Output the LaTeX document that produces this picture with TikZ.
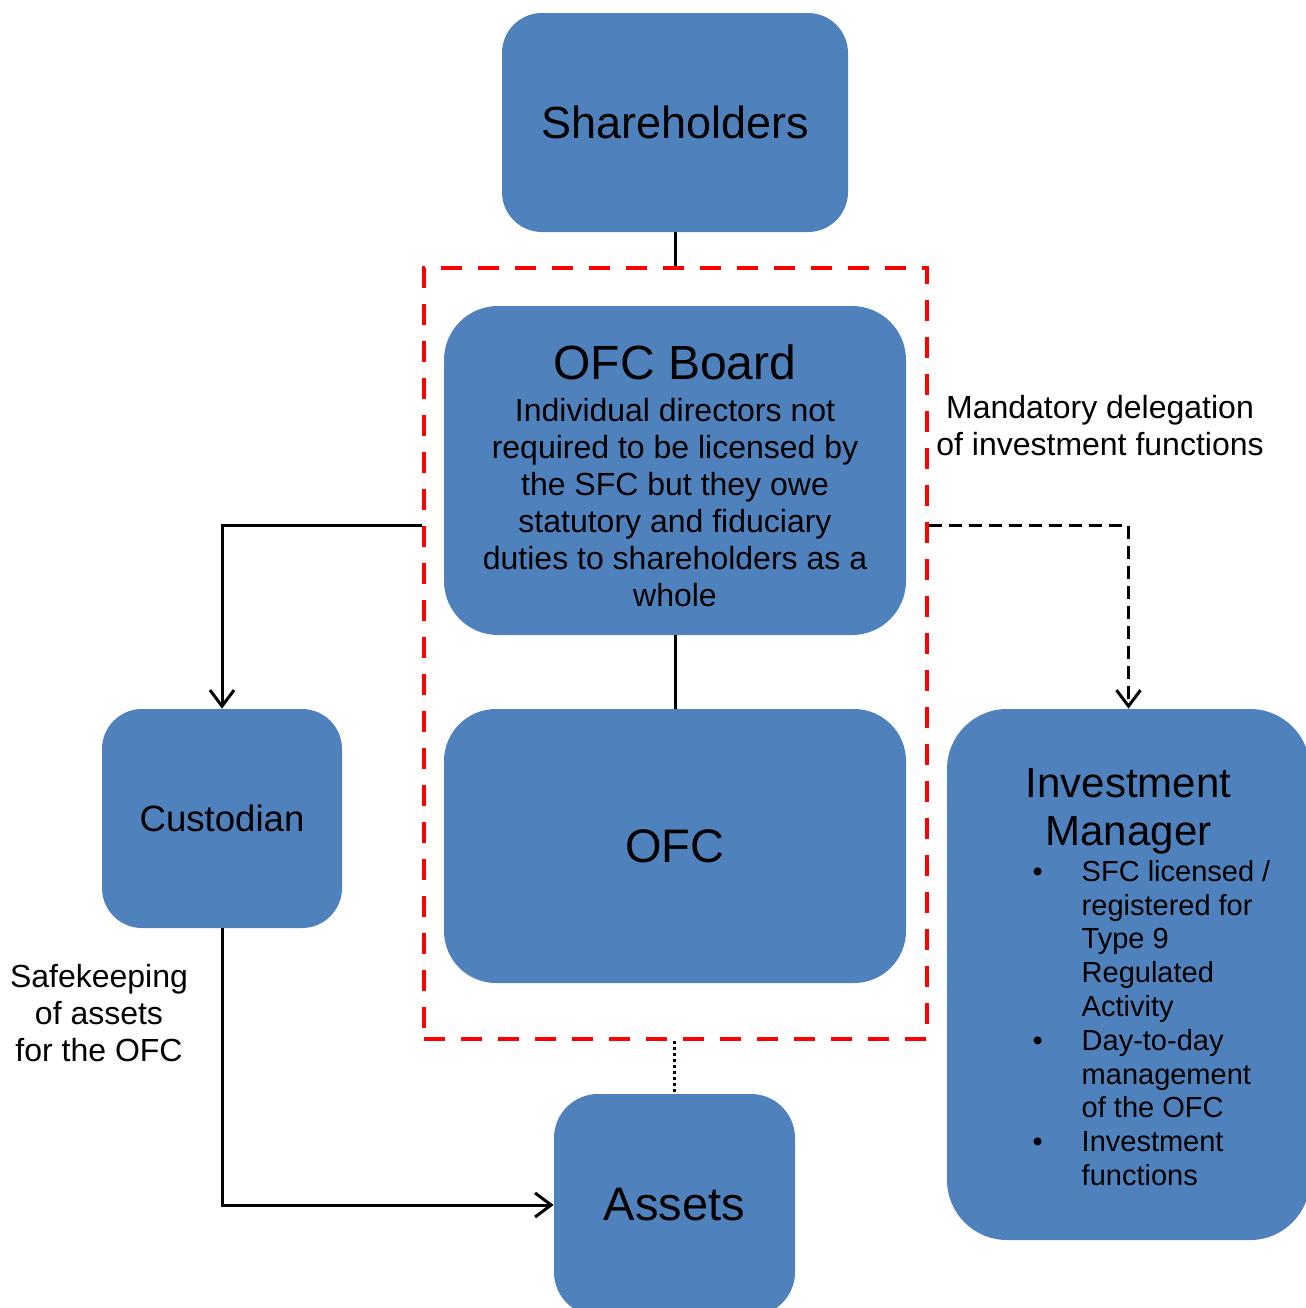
\documentclass[tikz,border=0pt]{standalone}
\usepackage{fontspec}
\setmainfont{Liberation Sans}
\usetikzlibrary{arrows.meta}
\definecolor{boxblue}{HTML}{4F81BD}
\definecolor{grpred}{HTML}{FF0000}
\begin{document}
\begin{tikzpicture}[x=0.5pt,y=-0.5pt,
  blk/.style={fill=boxblue, draw=none, text=black, inner sep=0pt, align=center},
  conn/.style={line width=1.5pt, draw=black},
  arr/.style={conn, -{Straight Barb[length=8pt,width=12pt]}},
  dashblk/.style={dash pattern=on 6.5pt off 3.5pt},
  dotblk/.style={conn, dash pattern=on 1.5pt off 1.5pt},
  grpbox/.style={draw=grpred, line width=2.2pt, dash pattern=on 10.5pt off 8pt, inner sep=0pt, fill=none},
  lbl/.style={align=center, inner sep=0pt, text=black, font=\fontsize{16}{18.5}\selectfont},
  bodyfont/.style={font=\fontsize{16}{18.5}\selectfont}
]
\useasboundingbox (0,0) rectangle (1306,1308);
\clip (0,0) rectangle (1306,1308);

% boxes
\node[blk, minimum width=173pt, minimum height=109.5pt, rounded corners=20pt,
      font=\fontsize{22.5}{27}\selectfont] (sh) at (675,122.5) {Shareholders};

\node[grpbox, minimum width=251.5pt, minimum height=385.5pt] (grp) at (675.5,653.5) {};

\node[blk, bodyfont, minimum width=231pt, minimum height=164.5pt, rounded corners=27pt] (board) at (675,470.5)
  {{\fontsize{24}{28}\selectfont\rule{0pt}{23pt}OFC Board}\\[2.5pt]
   Individual directors not\\
   required to be licensed by\\
   the SFC but they owe\\
   statutory and fiduciary\\
   duties to shareholders as a\\
   whole};

\node[blk, minimum width=231pt, minimum height=137pt, rounded corners=26pt,
      font=\fontsize{23.5}{28}\selectfont] (ofc) at (675,846) {OFC};

\node[blk, minimum width=120pt, minimum height=109.5pt, rounded corners=20pt,
      font=\fontsize{18.3}{22}\selectfont] (cust) at (222,818.5) {Custodian};

\node[blk, minimum width=181.5pt, minimum height=265.5pt, rounded corners=30pt,
      font=\fontsize{14.5}{16.9}\selectfont] (im) at (1128.5,974.5)
  {{\fontsize{21}{24}\selectfont\begin{tabular}{@{}c@{}}\rule{0pt}{22pt}Investment\\Manager\end{tabular}}\\[-2pt]
   \hspace*{23pt}\begin{tabular}{@{}p{24.5pt}@{}l@{}}
   \textbullet & SFC licensed /\\
               & registered for\\
               & Type 9\\
               & Regulated\\
               & Activity\\
   \textbullet & Day-to-day\\
               & management\\
               & of the OFC\\
   \textbullet & Investment\\
               & functions
   \end{tabular}};

\node[blk, minimum width=120.5pt, minimum height=111pt, rounded corners=22pt,
      font=\fontsize{23.5}{28}\selectfont] (assets) at (674.5,1205) {Assets};

% labels
\node[lbl] (deleg) at (1100,426) {Mandatory delegation\\of investment functions};
\node[lbl] (safe) at (99,1013) {Safekeeping\\of assets\\for the OFC};

% connectors
\coordinate (ylev) at (0,525);
\draw[conn] (sh.south) -- (sh.south |- grp.north);
\draw[conn] (board.south) -- (ofc.north);
\draw[arr] (grp.west |- ylev) -| (cust.north);
\draw[arr, dashblk] (grp.east |- ylev) -| (im.north);
\draw[arr] (cust.south) |- (assets.west);
\draw[dotblk] (assets.north |- grp.south) -- (assets.north);
\end{tikzpicture}
\end{document}
